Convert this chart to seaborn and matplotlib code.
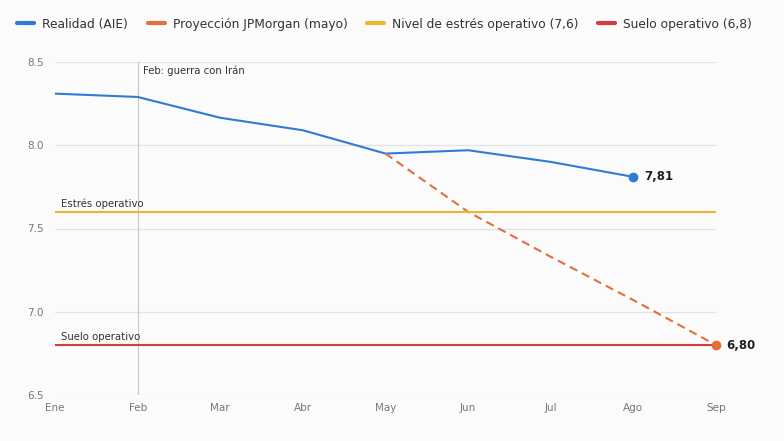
import matplotlib
matplotlib.use("Agg")
import matplotlib.pyplot as plt
from matplotlib.lines import Line2D
import seaborn as sns
import pandas as pd

months = ["Ene", "Feb", "Mar", "Abr", "May", "Jun", "Jul", "Ago", "Sep"]
real_months = ["Ene", "Feb", "Mar", "Abr", "May", "Jun", "Jul", "Ago"]
real_values = [8.31, 8.29, 8.165, 8.09, 7.95, 7.97, 7.90, 7.81]
proj_months = ["May", "Jun", "Jul", "Ago", "Sep"]
proj_values = [7.95, 7.60, 7.33, 7.07, 6.80]
stress_level = 7.6
floor_level = 6.8
yticks = [6.5, 7.0, 7.5, 8.0, 8.5]

series_names = ["Realidad (AIE)", "Proyección JPMorgan (mayo)",
                "Nivel de estrés operativo (7,6)", "Suelo operativo (6,8)"]
colors = ["#2f7bd3", "#e2703a", "#f1b42f", "#d63b3b"]

sns.set_theme(style="white")
plt.rcParams["font.family"] = ["DejaVu Sans"]

idx = {m: i for i, m in enumerate(months)}
df = pd.concat([
    pd.DataFrame({"x": [idx[m] for m in real_months], "y": real_values, "s": series_names[0]}),
    pd.DataFrame({"x": [idx[m] for m in proj_months], "y": proj_values, "s": series_names[1]}),
    pd.DataFrame({"x": [0, len(months) - 1], "y": [stress_level] * 2, "s": series_names[2]}),
    pd.DataFrame({"x": [0, len(months) - 1], "y": [floor_level] * 2, "s": series_names[3]}),
])

bg = "#fbfbfb"
fig = plt.figure(figsize=(7.84, 4.41), dpi=100, facecolor=bg)
ax = fig.add_axes([55 / 784, 1 - 395 / 441, (716 - 55) / 784, (395 - 62) / 441])
ax.set_facecolor(bg)

ax.axvline(idx["Feb"], color="#cccccc", lw=0.9, zorder=1)

sns.lineplot(data=df, x="x", y="y", hue="s", style="s",
             palette=dict(zip(series_names, colors)),
             dashes={series_names[0]: "", series_names[1]: (4, 2.5),
                     series_names[2]: "", series_names[3]: ""},
             linewidth=1.5, legend=False, ax=ax, zorder=3)

# end markers
ax.scatter([idx[real_months[-1]]], [real_values[-1]], s=36, color=colors[0], zorder=5)
ax.scatter([idx[proj_months[-1]]], [proj_values[-1]], s=36, color=colors[1], zorder=5, clip_on=False)
ax.text(idx[real_months[-1]] + 0.13, real_values[-1], f"{real_values[-1]:.2f}".replace(".", ","),
        fontsize=8.5, fontweight="bold", color="#222222", va="center", ha="left")
ax.text(idx[proj_months[-1]] + 0.13, proj_values[-1], f"{proj_values[-1]:.2f}".replace(".", ","),
        fontsize=8.5, fontweight="bold", color="#222222", va="center", ha="left")

ax.text(idx["Feb"] + 0.07, 8.48, "Feb: guerra con Irán", fontsize=7.3, color="#333333", va="top")
ax.text(0.07, stress_level + 0.02, "Estrés operativo", fontsize=7.3, color="#333333", va="bottom")
ax.text(0.07, floor_level + 0.02, "Suelo operativo", fontsize=7.3, color="#333333", va="bottom")

ax.set_xlim(0, len(months) - 1)
ax.set_ylim(6.5, 8.5)
ax.set_xticks(range(len(months)))
ax.set_xticklabels(months)
ax.set_yticks(yticks)
ax.set_yticklabels([f"{v:.1f}" for v in yticks])
ax.tick_params(axis="both", labelsize=7.5, colors="#777777", length=0)
ax.tick_params(axis="x", pad=6)
ax.tick_params(axis="y", pad=8)
ax.grid(axis="y", color="#e3e3e3", lw=0.9)
ax.grid(axis="x", visible=False)
for sp in ax.spines.values():
    sp.set_visible(False)
ax.set_xlabel("")
ax.set_ylabel("")

handles = [Line2D([0], [0], color=c, lw=3) for c in colors]
fig.legend(handles, series_names, loc="upper left", bbox_to_anchor=(0.008, 0.985),
           ncol=4, frameon=False, fontsize=8.8, handlelength=1.4, handletextpad=0.65,
           columnspacing=1.6, labelcolor="#333333")

fig.savefig("out.png", dpi=100, facecolor=bg)
